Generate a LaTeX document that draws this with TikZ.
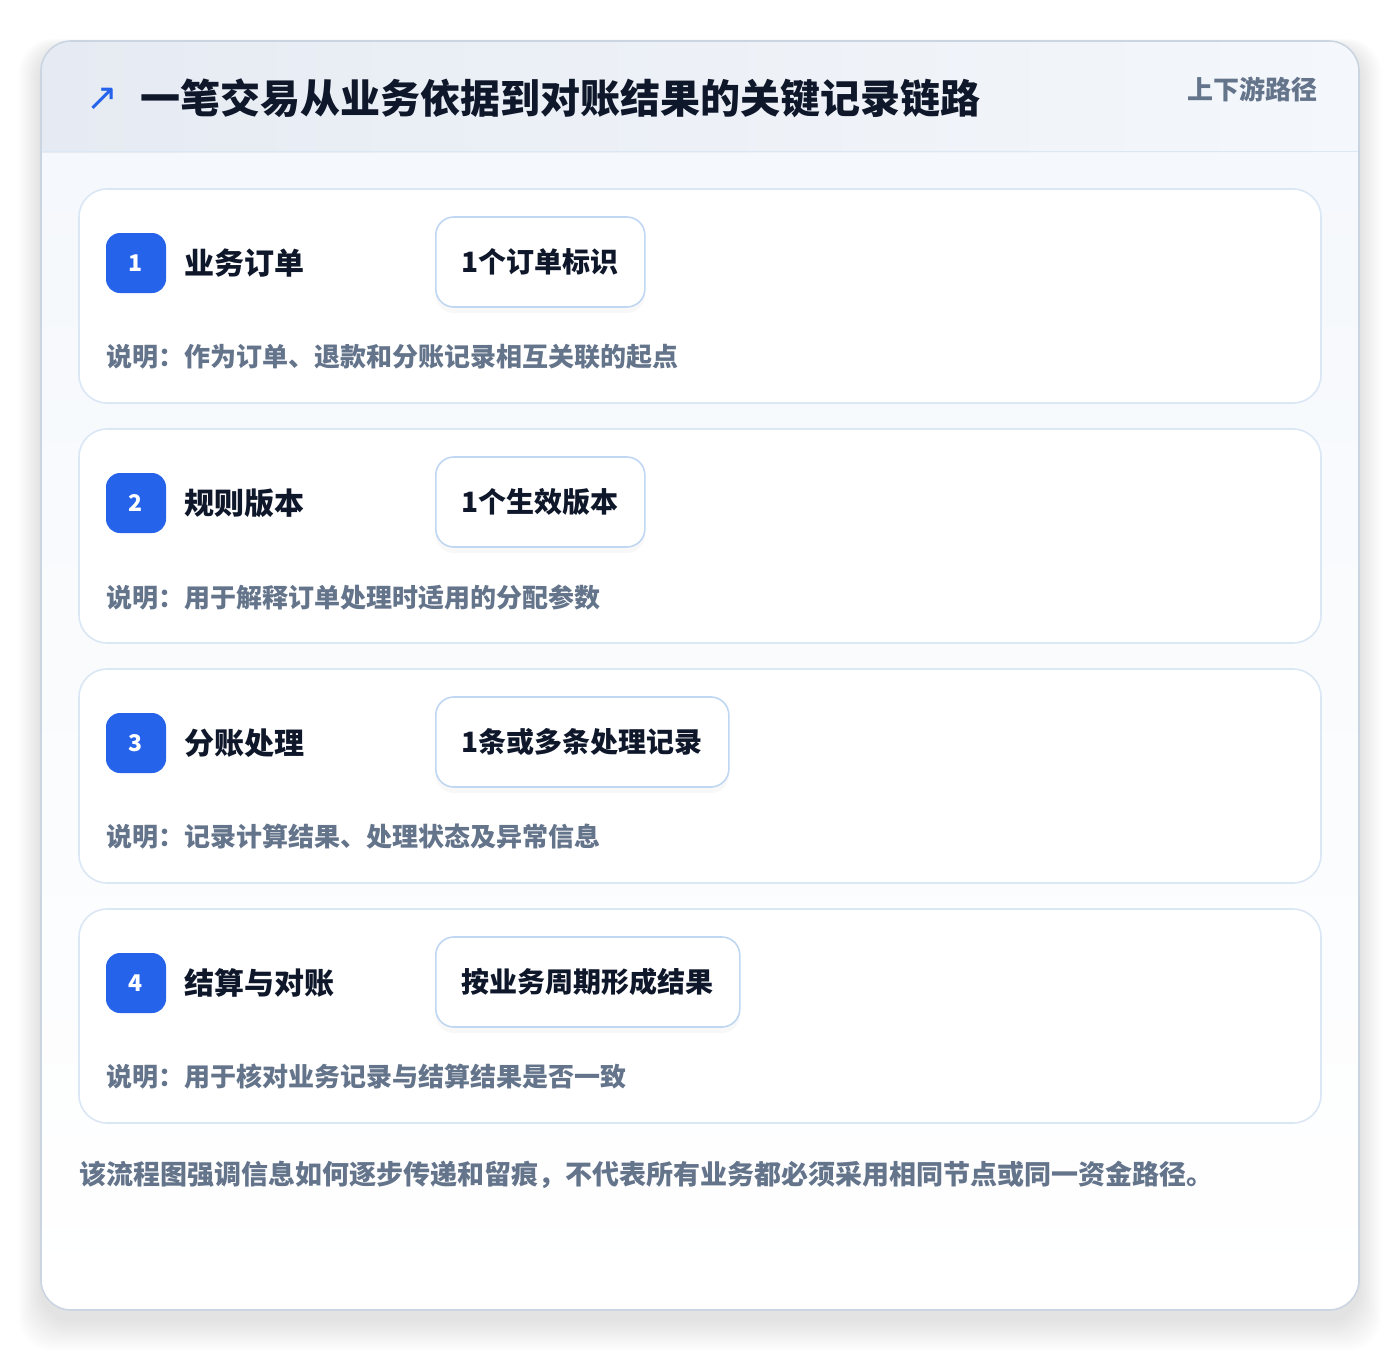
\documentclass[tikz,border=0pt]{standalone}
\usepackage{fontspec}
\setmainfont{Noto Sans CJK SC}
\newfontfamily\symfont{DejaVu Sans}
\usetikzlibrary{shadows}
\definecolor{badgeblue}{HTML}{2563EB}
\definecolor{inkdark}{HTML}{0F172A}
\definecolor{slate}{HTML}{64748B}
\definecolor{cardline}{HTML}{DBE7F5}
\definecolor{pillline}{HTML}{BFD7F2}
\definecolor{outerline}{HTML}{CBD5E1}
\definecolor{headL}{HTML}{E6EBF3}
\definecolor{headR}{HTML}{F4F7FB}
\definecolor{bodyTop}{HTML}{F5F8FC}
\begin{document}
\begin{tikzpicture}[x=1pt,y=-1pt,
  cardbox/.style={draw=cardline,line width=1.6pt,fill=white,rounded corners=28pt,minimum width=1242pt,minimum height=214pt,inner sep=0pt},
  badgebox/.style={fill=badgeblue,rounded corners=14pt,minimum width=60pt,minimum height=60pt,inner sep=0pt,text=white,font=\fontsize{23}{24}\selectfont\bfseries},
  steplabel/.style={anchor=west,inner sep=0pt,text=inkdark,font=\fontsize{30}{32}\selectfont\bfseries},
  pillbox/.style={anchor=west,draw=pillline,line width=1.6pt,fill=white,rounded corners=18pt,minimum height=90pt,inner xsep=26pt,inner ysep=0pt,text=inkdark,font=\fontsize{28}{30}\selectfont\bfseries,drop shadow={opacity=0.05,shadow xshift=0pt,shadow yshift=-6pt}},
  desctext/.style={anchor=west,inner sep=0pt,text=slate,font=\fontsize{26}{28}\selectfont\bfseries}
]
\useasboundingbox (0,0) rectangle (1400,1352);
% soft outer shadow
\foreach \i in {1,...,14}{
  \fill[black,opacity=0.008,rounded corners=34pt] (41-\i*1.6,41+6-\i*0.6) rectangle (1359+\i*1.6,1310+10+\i*2.2);
}
% outer card
\begin{scope}
  \clip[rounded corners=30pt] (41,41) rectangle (1359,1310);
  \shade[top color=bodyTop,bottom color=white] (41,152) rectangle (1359,1310);
  \shade[left color=headL,right color=headR] (41,41) rectangle (1359,152);
  \draw[cardline,line width=1.6pt] (41,151.5) -- (1359,151.5);
\end{scope}
\draw[outerline,line width=1.6pt,rounded corners=30pt] (41,41) rectangle (1359,1310);
% header
\node[inner sep=0pt,text=badgeblue,font=\fontsize{38}{38}\selectfont\symfont] (arrow) at (102,99) {↗};
\node[anchor=west,inner sep=0pt,text=inkdark,font=\fontsize{40}{44}\selectfont\bfseries] (title) at (140,98) {一笔交易从业务依据到对账结果的关键记录链路};
\node[anchor=east,inner sep=0pt,text=slate,font=\fontsize{26}{28}\selectfont\bfseries] (tag) at (1318,89) {上下游路径};
% cards
\foreach \n/\lab/\pill/\desc [count=\k from 0] in {
  1/业务订单/1个订单标识/作为订单、退款和分账记录相互关联的起点,
  2/规则版本/1个生效版本/用于解释订单处理时适用的分配参数,
  3/分账处理/1条或多条处理记录/记录计算结果、处理状态及异常信息,
  4/结算与对账/按业务周期形成结果/用于核对业务记录与结算结果是否一致}{
  \pgfmathsetmacro{\top}{189+240*\k}
  \node[cardbox] (card\n) at (700,\top+107) {};
  \node[badgebox] (badge\n) at (136,\top+74) {\n};
  \node[steplabel] (label\n) at (184,\top+74) {\lab};
  \node[pillbox] (pill\n) at (435,\top+73) {\pill};
  \node[desctext] (desc\n) at (106,\top+168) {说明：\desc};
}
% footer
\node[anchor=west,inner sep=0pt,text=slate,font=\fontsize{27}{30}\selectfont\bfseries] (footer) at (79,1175) {该流程图强调信息如何逐步传递和留痕，不代表所有业务都必须采用相同节点或同一资金路径。};
\end{tikzpicture}
\end{document}
